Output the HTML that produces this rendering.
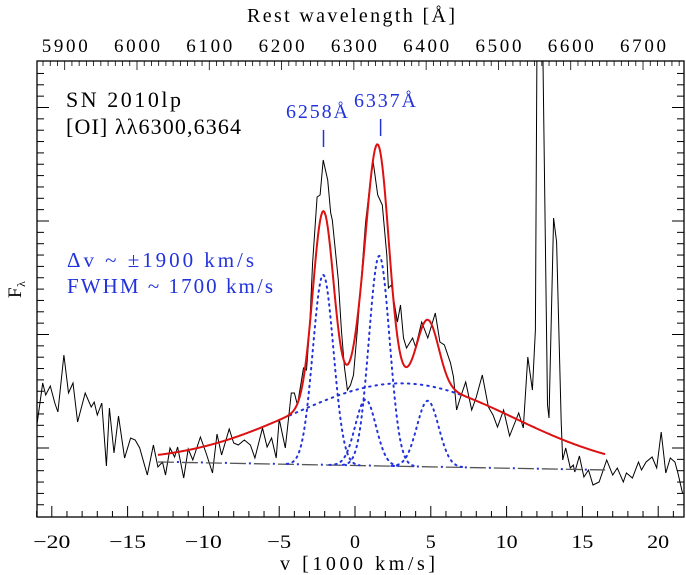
<!DOCTYPE html>
<html><head><meta charset="utf-8"><style>
html,body{margin:0;padding:0;background:#fff;}
svg{display:block;font-family:"Liberation Serif",serif;}
</style></head><body>
<svg id="chart" width="686" height="575" viewBox="0 0 686 575"></svg>
<script>
// velocity (1000 km/s) and flux (arbitrary units)
const specV = [-21.0,-20.6,-20.4,-20.1,-19.8,-19.6,-19.2,-18.9,-18.6,-18.3,-17.8,-17.4,-17.2,-17.0,-16.7,-16.4,-16.2,-15.9,-15.6,-15.2,-14.8,-14.5,-14.2,-13.7,-13.3,-13.0,-12.7,-12.5,-12.2,-11.9,-11.7,-11.3,-11.0,-10.7,-10.2,-9.8,-9.4,-9.1,-8.8,-8.3,-8.0,-7.7,-7.3,-6.9,-6.6,-6.1,-5.8,-5.5,-5.2,-5.0,-4.6,-4.2,-4.0,-3.8,-3.4,-3.2,-3.0,-2.8,-2.5,-2.3,-2.1,-1.8,-1.6,-1.5,-1.1,-0.9,-0.7,-0.5,-0.3,-0.1,0.2,0.7,1.0,1.2,1.5,1.8,2.1,2.2,2.4,2.8,3.0,3.2,3.4,3.8,4.0,4.4,4.8,5.3,5.6,5.9,6.3,6.5,6.7,6.9,7.3,7.7,8.0,8.4,8.8,9.1,9.4,9.8,10.2,10.8,11.1,11.4,11.7,11.9,12.0,12.2,12.4,12.7,12.8,13.1,13.3,13.6,13.7,13.9,14.2,14.4,14.5,14.8,15.1,15.4,15.7,16.1,16.6,17.0,17.3,17.7,17.9,18.3,18.7,18.9,19.2,19.6,19.9,20.2,20.5,20.8,21.1,21.3,21.6];
const specF = [90,134,122,131,114,105,162,124,134,95,124,110,115,102,114,51,109,64,101,59,79,77,69,42,72,50,55,42,69,60,70,39,68,57,80,63,44,83,62,88,74,72,77,72,59,89,70,79,59,98,69,124,124,112,149,147,187,254,320,322,357,337,304,297,237,187,150,127,132,142,195,295,335,355,322,312,262,229,232,195,212,179,169,179,170,195,179,204,175,172,154,140,107,117,135,107,120,142,110,102,90,107,81,104,89,160,127,187,462,470,455,112,99,299,275,95,57,69,49,52,45,61,40,47,32,35,57,42,49,35,44,39,55,47,55,60,49,85,44,59,55,44,24];
// fit components
const gaussCenters = [-2.1, 1.6, 0.7, 4.8];
const gaussHeights = [190, 210, 66, 66];
const gaussSigmas = [0.68, 0.68, 0.68, 0.72];
const broadCenter = 3.2, broadHeight = 83, broadSigma = 7.3;
const contIntercept = 51.5, contSlope = -0.27;
const fitRange = [-13, 16.5];
const xTicksMajor = [-20,-15,-10,-5,0,5,10,15,20];
const topTicksMajor = [5900,6000,6100,6200,6300,6400,6500,6600,6700];
const markLabels = ["6258Å","6337Å"];
const markWaves = [6258, 6337];

const L=37,R=684,T=61,B=517;
const xs = v => 355 + v*15.16;
const ys = f => B - f*1.0;
const xw = w => 64.7 + (w-5900)*0.7229;
const svg = document.getElementById('chart');
const NS='http://www.w3.org/2000/svg';
function mk(tag, attrs, parent){const e=document.createElementNS(NS,tag);for(const k in attrs)e.setAttribute(k,attrs[k]);(parent||svg).appendChild(e);return e;}

const defs=mk('defs',{});
const cp=mk('clipPath',{id:'plotclip'},defs);
mk('rect',{x:L,y:T,width:R-L,height:B-T},cp);

const cont = v => contIntercept + contSlope*v;
const g = (v,c,h,s) => h*Math.exp(-(v-c)*(v-c)/(2*s*s));
function total(v){let t=cont(v)+g(v,broadCenter,broadHeight,broadSigma);for(let i=0;i<gaussCenters.length;i++)t+=g(v,gaussCenters[i],gaussHeights[i],gaussSigmas[i]);return t;}

// spectrum
let d='';
for(let i=0;i<specV.length;i++){d+=(i?'L':'M')+xs(specV[i]).toFixed(1)+','+ys(specF[i]).toFixed(1);}
const sp=mk('path',{d:d,fill:'none',stroke:'#000','stroke-width':1,'clip-path':'url(#plotclip)'});



// continuum
const c1=mk('line',{x1:xs(fitRange[0]),y1:ys(cont(fitRange[0])),x2:xs(fitRange[1]),y2:ys(cont(fitRange[1])),stroke:'#555','stroke-width':1.3,'stroke-dasharray':'16 8'});


const c2=mk('line',{x1:xs(fitRange[0])+19,y1:ys(cont(fitRange[0])),x2:xs(fitRange[1]),y2:ys(cont(fitRange[1])),stroke:'#2233dd','stroke-width':2,'stroke-dasharray':'2 22'});



// component curves (dotted)
function curve(fn,a,b){let p='';const n=400;for(let i=0;i<=n;i++){const v=a+(b-a)*i/n;p+=(i?'L':'M')+xs(v).toFixed(2)+','+ys(fn(v)).toFixed(2);}return p;}
for(let i=0;i<gaussCenters.length;i++){
  const c=gaussCenters[i],s=gaussSigmas[i],h=gaussHeights[i];
  const e=mk('path',{d:curve(v=>cont(v)+g(v,c,h,s),c-2.4,c+2.4),fill:'none',stroke:'#2233dd','stroke-width':2,'stroke-dasharray':'1.5 4.5','stroke-linecap':'round'});
  
  
}
const bd=mk('path',{d:curve(v=>cont(v)+g(v,broadCenter,broadHeight,broadSigma),-4.3,7.0),fill:'none',stroke:'#2233dd','stroke-width':2,'stroke-dasharray':'1.5 5','stroke-linecap':'round'});



// total fit
const tf=mk('path',{d:curve(total,fitRange[0],fitRange[1]),fill:'none',stroke:'#dd1111','stroke-width':2,'stroke-linejoin':'round'});



// frame
const fr=mk('rect',{x:L,y:T,width:R-L,height:B-T,fill:'none',stroke:'#000','stroke-width':1.3});



// bottom ticks
for(let v=-21;v<=21;v++){const M=(v%5===0);mk('line',{x1:xs(v),y1:B,x2:xs(v),y2:B-(M?11:6),stroke:'#000','stroke-width':1});}
xTicksMajor.forEach(v=>{const s=(v<0?'\u2212'+(-v):''+v);
const w=(v<=-10?37:(v<0?24:(v>=10?22:10)));
const t=mk('text',{x:xs(v)-w/2,y:548,'font-size':19,textLength:w,lengthAdjust:'spacingAndGlyphs'});t.textContent=s;

});
// top ticks
for(let w=5860;w<=6760;w+=10){const x=xw(w);if(x<L||x>R)continue;const M=(w%100===0);mk('line',{x1:x,y1:T,x2:x,y2:T+(M?9:5),stroke:'#000','stroke-width':0.8});}
topTicksMajor.forEach(w=>{const t=mk('text',{x:xw(w)-23,y:52,'font-size':19,textLength:46,lengthAdjust:'spacing'});t.textContent=w;

});
// y ticks both sides
for(let k=0;k<40;k++){const y=448-11.35*(k-6);if(y<=T+2||y>=B-2)continue;const M=((k-6)%10===0);
mk('line',{x1:L,y1:y,x2:L+(M?12:7),y2:y,stroke:'#000','stroke-width':1});
mk('line',{x1:R,y1:y,x2:R-(M?12:7),y2:y,stroke:'#000','stroke-width':1});}

// line markers
markWaves.forEach((w,i)=>{const x=xw(w);const ty=i===0?118:107;const cx=i===0?317:385;
const t=mk('text',{x:cx-31,y:ty,'font-size':20,fill:'#2233dd',textLength:62,lengthAdjust:'spacing'});t.textContent=markLabels[i];


const l=mk('line',{x1:x,y1:ty+12,x2:x,y2:ty+29,stroke:'#2233dd','stroke-width':1.5});

});
</script>
<script>
(function(){const svg=document.getElementById('chart');const NS='http://www.w3.org/2000/svg';
function tx(s,x,y,size,fill,name,extra){const t=document.createElementNS(NS,'text');t.setAttribute('x',x);t.setAttribute('y',y);t.setAttribute('font-size',size);t.setAttribute('fill',fill);if(extra)for(const k in extra)t.setAttribute(k,extra[k]);t.textContent=s;


svg.appendChild(t);}
tx('Rest wavelength [Å]',247,22,20,'#000','top-axis-title',{textLength:208,lengthAdjust:'spacing'});
tx('v [1000 km/s]',280,570,20,'#000','x-axis-title',{textLength:155,lengthAdjust:'spacing'});
tx('SN 2010lp',66,107,22,'#000','object-label',{textLength:115,lengthAdjust:'spacing'});
tx('[OI] λλ6300,6364',66,134,22,'#000','line-label',{textLength:175,lengthAdjust:'spacing'});
tx('Δv ~ ±1900 km/s',67,267,21,'#2233dd','velocity-annotation',{textLength:187,lengthAdjust:'spacing'});
tx('FWHM ~ 1700 km/s',67,293,21,'#2233dd','fwhm-annotation',{textLength:206,lengthAdjust:'spacing'});
tx('F',0,0,19,'#000','y-axis-title',{transform:'translate(21,298) rotate(-90)'});
tx('λ',0,0,12,'#000','y-axis-subscript',{transform:'translate(25,287) rotate(-90)'});
})();
</script>
</body></html>
